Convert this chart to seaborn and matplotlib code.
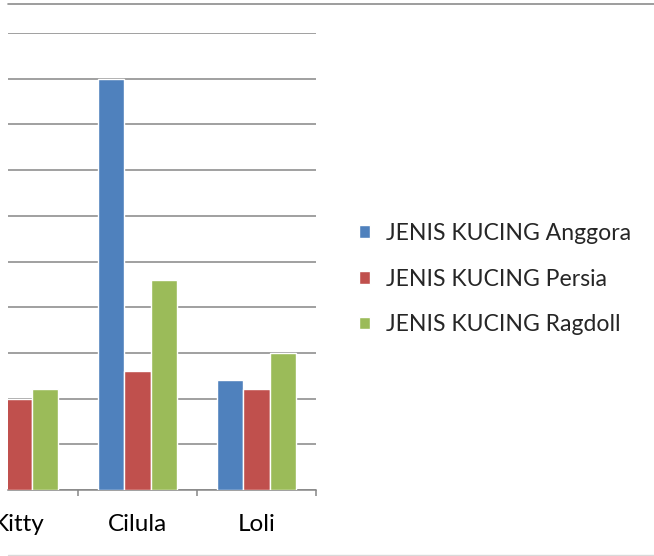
import pandas as pd
import numpy as np
import matplotlib.pyplot as plt
import seaborn as sns
from matplotlib.lines import Line2D

# Values read off the (cropped) chart; the left edge cuts off the y labels
# and the Kitty / Anggora bar, so that one is a guess.
categories = ['Kitty', 'Cilula', 'Loli']
anggora = [2.4, 9.0, 2.4]
persia = [2.0, 2.6, 2.2]
ragdoll = [2.2, 4.6, 3.0]
series_names = ['JENIS KUCING Anggora', 'JENIS KUCING Persia', 'JENIS KUCING Ragdoll']
colors = ['#4F81BD', '#C0504D', '#9BBB59']

df = pd.DataFrame({'kategori': categories * 3,
                   'nilai': anggora + persia + ragdoll,
                   'seri': np.repeat(series_names, len(categories))})

sns.set_style('white')
plt.rcParams['font.family'] = ['Lato', 'DejaVu Sans']

W, H = 654, 556
fig = plt.figure(figsize=(W / 100, H / 100), dpi=100)
# plot area in pixels: left 8, right 316, top 33, bottom 490
ax = fig.add_axes([8 / W, (H - 490) / H, (316 - 8) / W, (490 - 33) / H])

sns.barplot(data=df, x='kategori', y='nilai', hue='seri', palette=colors,
            width=0.667, saturation=1, ax=ax, zorder=3)

ax.set_xlim(-0.088, 2.5)
ax.set_ylim(0, 10)
ax.set_yticks(np.arange(0, 11, 1))
ax.yaxis.grid(True, color='#868686', linewidth=1.1, zorder=0)
ax.tick_params(axis='y', left=False, labelleft=False)
ax.set_xticks([0.5, 1.5, 2.5], minor=True)
ax.tick_params(axis='x', which='minor', bottom=True, direction='out',
               length=4.5, width=1.1, color='#868686')
ax.tick_params(axis='x', which='major', length=0, pad=17, labelsize=17.5,
               labelcolor='black')
for s in ['top', 'right', 'left']:
    ax.spines[s].set_visible(False)
ax.spines['bottom'].set_color('#868686')
ax.spines['bottom'].set_linewidth(1.1)
ax.set_xlabel('')
ax.set_ylabel('')

handles, labels = ax.get_legend_handles_labels()
ax.legend_.remove()
fig.legend(handles, labels, loc='center left',
           bbox_to_anchor=(359 / W, (H - 279) / H), frameon=False,
           fontsize=16.6, handlelength=0.46, handleheight=0.46,
           handletextpad=0.72, labelspacing=1.08, borderpad=0, borderaxespad=0)

# chart border lines (top and bottom of the cropped chart area)
fig.add_artist(Line2D([8 / W, 1], [(H - 4) / H] * 2, color='#8c8c8c', lw=1.2))
fig.add_artist(Line2D([8 / W, 1], [(H - 555) / H] * 2, color='#d9d9d9', lw=1.0))

fig.savefig('out.png', dpi=100)
